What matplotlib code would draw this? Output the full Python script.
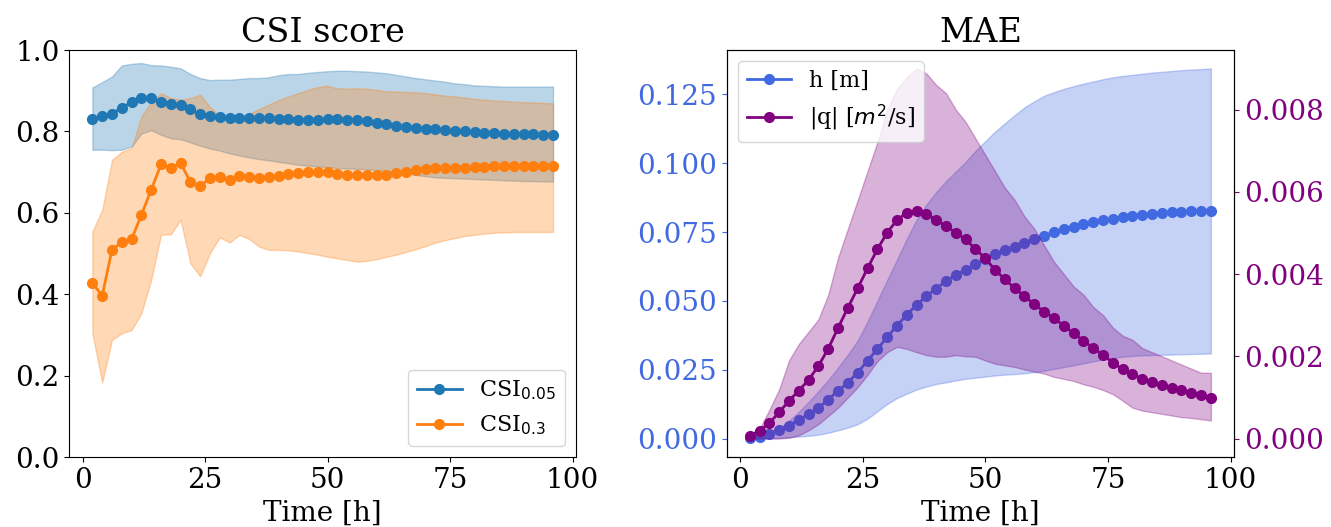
import numpy
import matplotlib
matplotlib.use("Agg")
import matplotlib.pyplot as plt

# Lead time of the forecast [h]
time = numpy.arange(2, 97, 2)

# CSI scores, mean and spread over the test events
csi_005 = [0.831, 0.839, 0.844, 0.858, 0.872, 0.881, 0.881, 0.873, 0.868, 0.865,
           0.854, 0.842, 0.837, 0.835, 0.834, 0.833, 0.833, 0.832, 0.832, 0.831,
           0.831, 0.829, 0.829, 0.829, 0.830, 0.830, 0.829, 0.828, 0.825, 0.821,
           0.818, 0.814, 0.811, 0.809, 0.807, 0.805, 0.803, 0.801, 0.800, 0.798,
           0.796, 0.795, 0.794, 0.7935, 0.793, 0.7925, 0.792, 0.792]
csi_005_lo = [0.755, 0.755, 0.754, 0.755, 0.763, 0.795, 0.803, 0.792, 0.783, 0.781,
              0.773, 0.765, 0.758, 0.753, 0.746, 0.741, 0.736, 0.732, 0.729, 0.725,
              0.722, 0.718, 0.716, 0.714, 0.712, 0.710, 0.709, 0.708, 0.707, 0.705,
              0.703, 0.700, 0.697, 0.693, 0.690, 0.687, 0.686, 0.685, 0.684, 0.683,
              0.682, 0.681, 0.680, 0.679, 0.678, 0.678, 0.677, 0.677]
csi_005_hi = [0.908, 0.921, 0.935, 0.962, 0.966, 0.968, 0.963, 0.962, 0.959, 0.955,
              0.941, 0.931, 0.926, 0.927, 0.927, 0.929, 0.931, 0.931, 0.933, 0.938,
              0.941, 0.941, 0.944, 0.946, 0.948, 0.949, 0.949, 0.948, 0.947, 0.945,
              0.943, 0.939, 0.935, 0.931, 0.928, 0.925, 0.922, 0.918, 0.916, 0.913,
              0.912, 0.911, 0.910, 0.910, 0.910, 0.910, 0.910, 0.910]

csi_03 = [0.428, 0.396, 0.509, 0.528, 0.535, 0.595, 0.656, 0.719, 0.711, 0.722,
          0.676, 0.666, 0.685, 0.689, 0.681, 0.691, 0.689, 0.686, 0.687, 0.691,
          0.696, 0.697, 0.700, 0.701, 0.701, 0.696, 0.694, 0.693, 0.694, 0.694,
          0.694, 0.697, 0.701, 0.705, 0.707, 0.709, 0.710, 0.710, 0.711, 0.712,
          0.713, 0.714, 0.714, 0.7145, 0.715, 0.715, 0.715, 0.7145]
csi_03_lo = [0.304, 0.183, 0.288, 0.304, 0.312, 0.353, 0.435, 0.546, 0.547, 0.583,
             0.476, 0.444, 0.501, 0.540, 0.527, 0.546, 0.536, 0.517, 0.509, 0.509,
             0.508, 0.505, 0.501, 0.497, 0.492, 0.488, 0.484, 0.480, 0.482, 0.486,
             0.492, 0.497, 0.504, 0.511, 0.518, 0.527, 0.533, 0.538, 0.543, 0.546,
             0.549, 0.551, 0.552, 0.553, 0.553, 0.553, 0.553, 0.553]
csi_03_hi = [0.554, 0.607, 0.730, 0.750, 0.759, 0.837, 0.873, 0.894, 0.882, 0.878,
             0.882, 0.890, 0.860, 0.838, 0.830, 0.835, 0.843, 0.855, 0.866, 0.877,
             0.886, 0.894, 0.902, 0.909, 0.912, 0.906, 0.905, 0.906, 0.905, 0.902,
             0.899, 0.898, 0.897, 0.896, 0.894, 0.891, 0.888, 0.886, 0.883, 0.880,
             0.878, 0.876, 0.875, 0.873, 0.872, 0.871, 0.870, 0.869]

# MAE of water depth h [m]
mae_h = [0.00036, 0.00073, 0.0017, 0.00327, 0.00472, 0.00679, 0.00885, 0.01115,
         0.01417, 0.01732, 0.02034, 0.02397, 0.02822, 0.03246, 0.03682, 0.04104,
         0.04492, 0.04855, 0.05171, 0.05448, 0.05716, 0.05945, 0.06126, 0.0633,
         0.0653, 0.06707, 0.06853, 0.06973, 0.07118, 0.07241, 0.07372, 0.07495,
         0.07616, 0.07699, 0.07797, 0.0787, 0.07931, 0.0799, 0.0804, 0.08088,
         0.08136, 0.08172, 0.08197, 0.08221, 0.08245, 0.08257, 0.08269, 0.08281]
mae_h_lo = [0.0, 0.00005, 0.0001, 0.0002, 0.0004, 0.0007, 0.0010, 0.0014,
            0.0021, 0.0030, 0.0040, 0.0052, 0.0072, 0.0099, 0.0125, 0.0147,
            0.0163, 0.0178, 0.0189, 0.0198, 0.0204, 0.0211, 0.0217, 0.0221,
            0.0225, 0.0229, 0.0232, 0.0234, 0.0237, 0.0241, 0.0246, 0.0253,
            0.0259, 0.0266, 0.0273, 0.0280, 0.0287, 0.0292, 0.0297, 0.0300,
            0.0302, 0.0303, 0.0304, 0.0305, 0.0306, 0.0307, 0.0308, 0.0309]
mae_h_hi = [0.0003, 0.0008, 0.0019, 0.0038, 0.0065, 0.0097, 0.0133, 0.0172,
            0.0213, 0.0258, 0.0305, 0.0356, 0.0425, 0.0500, 0.0575, 0.0650,
            0.0725, 0.0795, 0.0850, 0.0895, 0.0935, 0.0970, 0.1005, 0.1045,
            0.1080, 0.1115, 0.1145, 0.1175, 0.1203, 0.1225, 0.1245, 0.1258,
            0.1270, 0.1280, 0.1289, 0.1297, 0.1305, 0.1312, 0.1317, 0.1321,
            0.1325, 0.1329, 0.1332, 0.1335, 0.1338, 0.1340, 0.1342, 0.1344]

# MAE of unit discharge |q| [m2/s]
mae_q = [0.000066, 0.000194, 0.000374, 0.000641, 0.000916, 0.001166, 0.001426,
         0.001767, 0.002187, 0.00269, 0.003183, 0.003655, 0.00414, 0.004602,
         0.005006, 0.005314, 0.005492, 0.00554, 0.00546, 0.005314, 0.005168,
         0.005006, 0.004845, 0.004609, 0.004383, 0.0041, 0.003873, 0.003655,
         0.00346, 0.003266, 0.003086, 0.002926, 0.002746, 0.002561, 0.002381,
         0.002197, 0.002034, 0.001847, 0.001686, 0.001565, 0.001458, 0.001378,
         0.001305, 0.001239, 0.001176, 0.00111, 0.001055, 0.000996]
mae_q_lo = [0.0, 0.0, 0.0, 0.0, 0.00002, 0.00008, 0.0002, 0.00035, 0.00055,
            0.00075, 0.0010, 0.00125, 0.00155, 0.00188, 0.0021, 0.00223, 0.00218,
            0.0021, 0.00203, 0.00199, 0.00199, 0.00203, 0.0020, 0.00199, 0.0019,
            0.00182, 0.00178, 0.00174, 0.00168, 0.00163, 0.00158, 0.0015, 0.00145,
            0.0014, 0.00132, 0.00126, 0.00118, 0.00108, 0.00092, 0.00075, 0.00068,
            0.00064, 0.0006, 0.00056, 0.00052, 0.0005, 0.00047, 0.00044]
mae_q_hi = [0.00005, 0.00024, 0.0007, 0.0012, 0.0019, 0.0023, 0.0026, 0.0029,
            0.0035, 0.0044, 0.0051, 0.0058, 0.0065, 0.0072, 0.0080, 0.0085,
            0.0088, 0.0090, 0.00888, 0.0086, 0.0084, 0.0080, 0.0077, 0.0073,
            0.0069, 0.0065, 0.0061, 0.0058, 0.0054, 0.0051, 0.0047, 0.0043,
            0.0040, 0.0037, 0.0035, 0.0032, 0.0030, 0.0027, 0.0025, 0.0024,
            0.0022, 0.0021, 0.0020, 0.0019, 0.0018, 0.0017, 0.0016, 0.0016]


plt.rcParams['font.family'] = 'DejaVu Serif'
plt.rcParams['font.size'] = 20

fig = plt.figure(figsize=(13.31, 5.27), dpi=100)
ax_csi = fig.add_axes([0.0521, 0.1328, 0.3807, 0.7723])
ax_h = fig.add_axes([0.546, 0.1328, 0.3811, 0.7723])

# CSI score
ax_csi.plot(time, csi_005, 'o-', color='tab:blue', ms=7, lw=2, label=r'CSI$_{0.05}$')
ax_csi.fill_between(time, csi_005_lo, csi_005_hi, color='tab:blue', alpha=0.3)
ax_csi.plot(time, csi_03, 'o-', color='tab:orange', ms=7, lw=2, label=r'CSI$_{0.3}$')
ax_csi.fill_between(time, csi_03_lo, csi_03_hi, color='tab:orange', alpha=0.3)
ax_csi.set_ylim(0, 1)
ax_csi.set_xticks([0, 25, 50, 75, 100])
ax_csi.set_xlabel("Time [h]")
ax_csi.set_title("CSI score")
ax_csi.legend(loc='lower right', fontsize=16)

# MAE, with discharge on a second y axis
ax_q = ax_h.twinx()
l_h, = ax_h.plot(time, mae_h, 'o-', color='royalblue', ms=7, lw=2, label='h [m]')
ax_h.fill_between(time, mae_h_lo, mae_h_hi, color='royalblue', alpha=0.3)
l_q, = ax_q.plot(time, mae_q, 'o-', color='purple', ms=7, lw=2, label=r'|q| [$m^2$/s]')
ax_q.fill_between(time, mae_q_lo, mae_q_hi, color='purple', alpha=0.3)

ax_h.set_xticks([0, 25, 50, 75, 100])
ax_h.set_yticks([0.0, 0.025, 0.05, 0.075, 0.1, 0.125])
ax_q.set_yticks([0.0, 0.002, 0.004, 0.006, 0.008])
ax_h.tick_params(axis='y', colors='royalblue')
ax_q.tick_params(axis='y', colors='purple')
ax_h.set_xlabel("Time [h]")
ax_h.set_title("MAE")
ax_q.legend(handles=[l_h, l_q], loc='upper left', fontsize=16)

plt.savefig("out.png", dpi=100)
